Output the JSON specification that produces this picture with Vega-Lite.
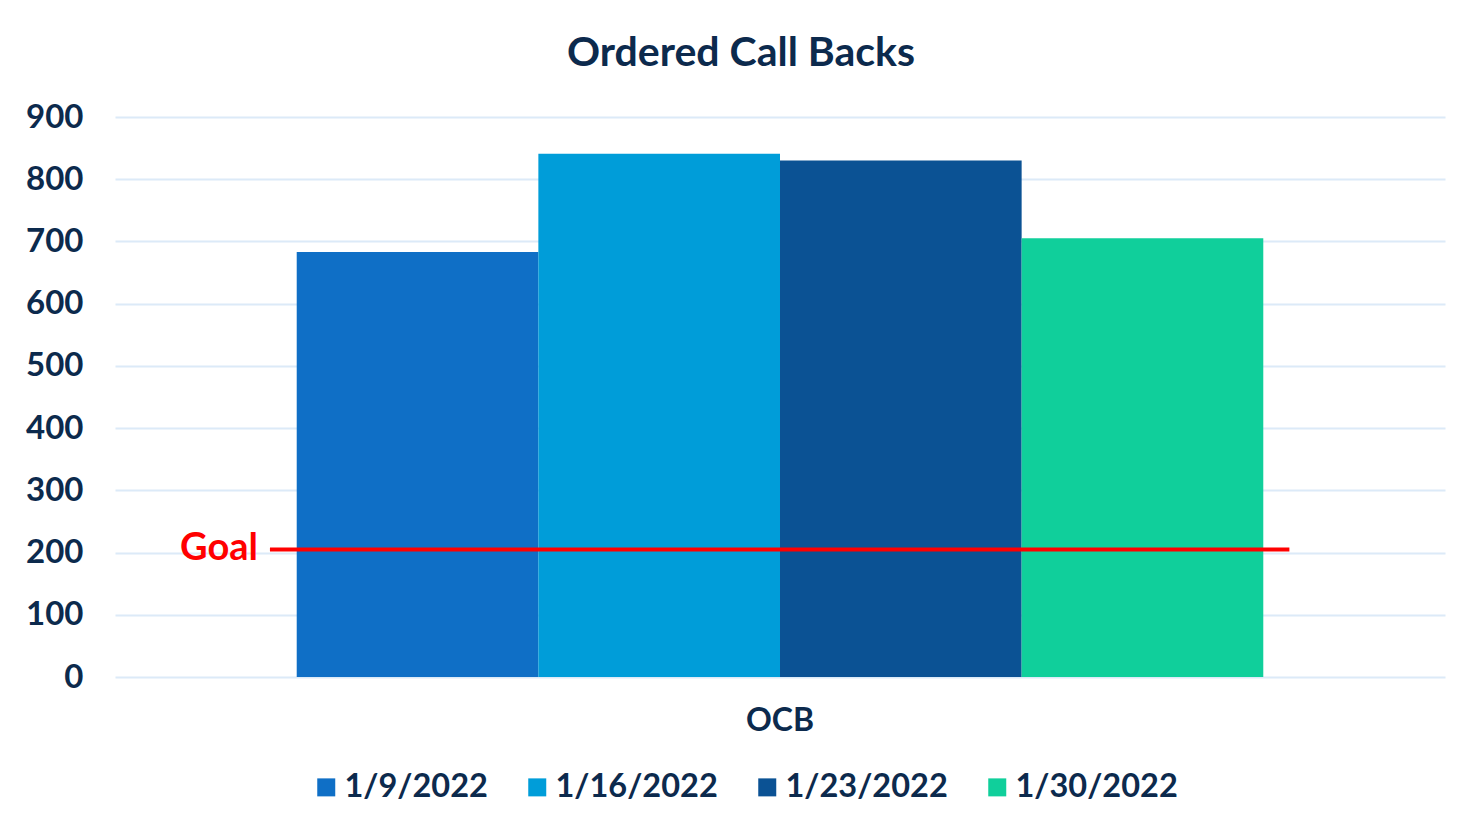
{
  "$schema": "https://vega.github.io/schema/vega-lite/v6.json",
  "width": 1330,
  "height": 560,
  "padding": {"left": 25, "top": 33, "right": 17, "bottom": 10},
  "background": "white",
  "title": {"text": "Ordered Call Backs", "fontSize": 41, "font": "Lato", "fontWeight": "bold", "color": "#0C2A4D", "offset": 26, "anchor": "middle", "dx": -39},
  "config": {"view": {"stroke": null}},
  "datasets": {
    "bars": [
      {"category": "OCB", "week": "1/9/2022", "value": 683},
      {"category": "OCB", "week": "1/16/2022", "value": 841},
      {"category": "OCB", "week": "1/23/2022", "value": 830},
      {"category": "OCB", "week": "1/30/2022", "value": 705}
    ],
    "goal": [{"label": "Goal", "goal": 205, "from": 0.1165, "to": 0.883}]
  },
  "layer": [
    {
      "data": {"name": "bars"},
      "mark": {"type": "bar"},
      "encoding": {
        "x": {"field": "category", "type": "nominal", "scale": {"paddingInner": 0, "paddingOuter": 0.188},
          "axis": {"title": null, "labelAngle": 0, "labelFontSize": 32, "labelFont": "Lato", "labelFontWeight": "bold", "labelColor": "#0C2A4D", "labelPadding": 28, "ticks": false, "domain": false, "grid": false}},
        "xOffset": {"field": "week", "type": "nominal", "sort": ["1/9/2022", "1/16/2022", "1/23/2022", "1/30/2022"], "scale": {"paddingInner": 0, "paddingOuter": 0}},
        "y": {"field": "value", "type": "quantitative", "scale": {"domain": [0, 900]},
          "axis": {"title": null, "values": [0, 100, 200, 300, 400, 500, 600, 700, 800, 900], "labelFontSize": 33, "labelFont": "Lato", "labelFontWeight": "bold", "labelColor": "#0C2A4D", "labelPadding": 32, "ticks": false, "domain": false, "gridColor": "#DCEAF8", "gridWidth": 2}},
        "color": {"field": "week", "type": "nominal", "sort": ["1/9/2022", "1/16/2022", "1/23/2022", "1/30/2022"],
          "scale": {"domain": ["1/9/2022", "1/16/2022", "1/23/2022", "1/30/2022"], "range": ["#0F6FC6", "#009DD9", "#0B5294", "#10CF9B"]},
          "legend": {"title": null, "orient": "none", "legendX": 195, "legendY": 654, "direction": "horizontal", "symbolType": "square", "symbolSize": 324, "symbolStrokeWidth": 0, "labelFontSize": 32.5, "labelFont": "Lato", "labelFontWeight": "bold", "labelColor": "#0C2A4D", "labelLimit": 400, "columnPadding": 33, "labelOffset": 2}}
      }
    },
    {
      "data": {"name": "goal"},
      "mark": {"type": "rule", "color": "#FF0000", "strokeWidth": 4},
      "encoding": {
        "x": {"field": "from", "type": "quantitative", "scale": {"domain": [0, 1]}, "axis": null},
        "x2": {"field": "to"},
        "y": {"field": "goal", "type": "quantitative"}
      }
    },
    {
      "data": {"name": "goal"},
      "mark": {"type": "text", "color": "#FF0000", "fontSize": 38, "font": "Lato", "fontWeight": "bold", "align": "right", "baseline": "middle", "dx": -12},
      "encoding": {
        "x": {"field": "from", "type": "quantitative", "scale": {"domain": [0, 1]}, "axis": null},
        "y": {"field": "goal", "type": "quantitative"},
        "text": {"field": "label"}
      }
    }
  ],
  "resolve": {"scale": {"x": "independent"}}
}
